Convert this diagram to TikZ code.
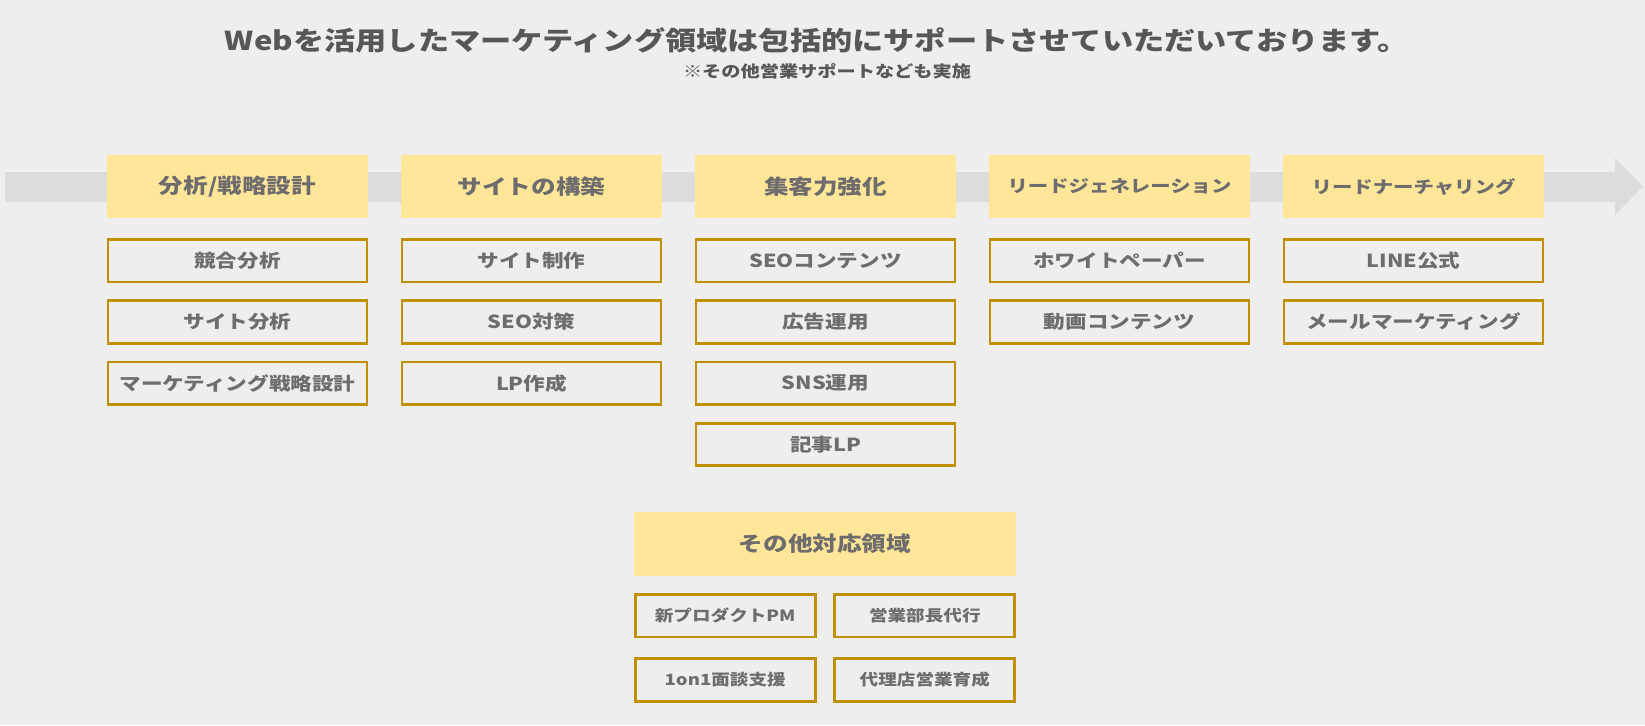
\documentclass[tikz,border=0pt]{standalone}
\usepackage{fontspec}
\setmainfont{Noto Sans CJK JP}[FakeStretch=1.2]
\usepackage{tikz}
\usetikzlibrary{positioning}

\definecolor{bgcol}{HTML}{EEEEEE}
\definecolor{bandcol}{HTML}{DCDCDC}
\definecolor{headfill}{HTML}{FFE699}
\definecolor{goldline}{HTML}{BF9000}
\definecolor{titletext}{HTML}{575757}
\definecolor{boxtext}{HTML}{6E6C6C}

\tikzset{
  phase/.style={fill=headfill,text=boxtext,inner sep=0pt,
    minimum width=261pt,minimum height=63pt,
    font=\bfseries\fontsize{20.5}{24}\selectfont},
  longphase/.style={phase,font=\bfseries\fontsize{17}{20}\selectfont},
  task/.style={draw=goldline,line width=2.8pt,text=boxtext,inner sep=0pt,
    minimum width=259pt,minimum height=42.5pt,
    font=\bfseries\fontsize{18}{22}\selectfont},
  extra/.style={task,minimum width=180pt,
    font=\bfseries\fontsize{15.5}{19}\selectfont}
}

\begin{document}
\begin{tikzpicture}[x=1pt,y=-1pt]
  % Canvas
  \fill[bgcol] (0,0) rectangle (1645,725);
  \useasboundingbox (0,0) rectangle (1645,725);

  % Heading
  \node[text=titletext,font=\bfseries\fontsize{26}{30}\selectfont] (title) at (817,40)
    {Webを活用したマーケティング領域は包括的にサポートさせていただいております。};
  \node[text=titletext,font=\bfseries\fontsize{16}{19}\selectfont] (note) at (827,71.5)
    {※その他営業サポートなども実施};

  % Flow arrow behind the phases
  \fill[bandcol] (5,172) -- (1615,172) -- (1615,158) -- (1643,186.5)
    -- (1615,215) -- (1615,202) -- (5,202) -- cycle;

  % Phases
  \node[phase] (analysis) at (237.5,186.5) {分析/戦略設計};
  \node[phase] (build)    at (531.5,186.5) {サイトの構築};
  \node[phase] (traffic)  at (825.5,186.5) {集客力強化};
  \node[longphase] (leadgen) at (1119.5,186.5) {リードジェネレーション};
  \node[longphase] (nurture) at (1413.5,186.5) {リードナーチャリング};

  % Tasks under each phase
  \node[task,below=19.8pt of analysis] (ana1) {競合分析};
  \node[task,below=16pt of ana1] (ana2) {サイト分析};
  \node[task,below=16pt of ana2] (ana3) {マーケティング戦略設計};

  \node[task,below=19.8pt of build] (bld1) {サイト制作};
  \node[task,below=16pt of bld1] (bld2) {SEO対策};
  \node[task,below=16pt of bld2] (bld3) {LP作成};

  \node[task,below=19.8pt of traffic] (trf1) {SEOコンテンツ};
  \node[task,below=16pt of trf1] (trf2) {広告運用};
  \node[task,below=16pt of trf2] (trf3) {SNS運用};
  \node[task,below=16pt of trf3] (trf4) {記事LP};

  \node[task,below=19.8pt of leadgen] (lgn1) {ホワイトペーパー};
  \node[task,below=16pt of lgn1] (lgn2) {動画コンテンツ};

  \node[task,below=19.8pt of nurture] (nur1) {LINE公式};
  \node[task,below=16pt of nur1] (nur2) {メールマーケティング};

  % Other areas
  \node[phase,minimum width=382pt,minimum height=64pt] (other) at (825,544) {その他対応領域};
  \node[extra,below=16.8pt of other.south west,anchor=north west] (oth1) {新プロダクトPM};
  \node[extra,below=16.8pt of other.south east,anchor=north east] (oth2) {営業部長代行};
  \node[extra,below=19pt of oth1] (oth3) {1on1面談支援};
  \node[extra,below=19pt of oth2] (oth4) {代理店営業育成};

\end{tikzpicture}
\end{document}
